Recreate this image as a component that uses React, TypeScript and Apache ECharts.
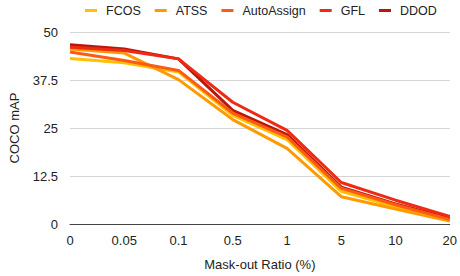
import React, { useEffect, useRef } from "react";
import * as echarts from "echarts";

const categories = ["0", "0.05", "0.1", "0.5", "1", "5", "10", "20"];
const fcos = [43.1, 42.0, 39.6, 28.3, 22.0, 8.5, 4.5, 1.0];
const atss = [45.6, 44.5, 37.6, 27.2, 19.7, 7.1, 3.9, 0.8];
const autoAssign = [44.8, 42.6, 40.0, 28.9, 22.7, 9.3, 5.0, 1.2];
const gfl = [46.0, 45.2, 43.0, 31.7, 24.4, 10.8, 6.2, 2.0];
const ddod = [46.7, 45.6, 43.0, 29.6, 23.3, 9.6, 5.2, 1.5];
const yTicks = [0, 12.5, 25, 37.5, 50];

const seriesDefs = [
  { name: "FCOS", data: fcos, color: "#FFC000" },
  { name: "ATSS", data: atss, color: "#FF9A00" },
  { name: "AutoAssign", data: autoAssign, color: "#FF5A14" },
  { name: "GFL", data: gfl, color: "#EE2A14" },
  { name: "DDOD", data: ddod, color: "#B8180C" },
];

export default function App() {
  const ref = useRef<HTMLDivElement>(null);
  useEffect(() => {
    if (!ref.current) return;
    const chart = echarts.init(ref.current, null, { renderer: "svg" });
    const font = "Liberation Sans, Arial, Helvetica, sans-serif";
    chart.setOption({
      animation: false,
      textStyle: { fontFamily: font },
      legend: {
        top: 4,
        left: 85,
        width: 375,
        padding: 0,
        itemWidth: 12,
        itemHeight: 3,
        itemGap: 14,
        icon: "rect",
        textStyle: { fontSize: 12.5, color: "#222", fontFamily: font, padding: [0, 0, 0, 4] },
        data: seriesDefs.map((s) => s.name),
      },
      grid: { left: 68, right: 5, top: 32, bottom: 49, containLabel: false },
      xAxis: {
        type: "category",
        data: categories,
        boundaryGap: false,
        name: "Mask-out Ratio (%)",
        nameLocation: "middle",
        nameGap: 34,
        nameTextStyle: { fontSize: 13, color: "#222", fontFamily: font },
        axisLine: { lineStyle: { color: "#444", width: 1 } },
        axisTick: { show: false },
        axisLabel: { fontSize: 13, color: "#222", margin: 10, fontFamily: font },
        splitLine: { show: false },
      },
      yAxis: {
        type: "value",
        min: 0,
        max: 50,
        interval: 12.5,
        name: "COCO mAP",
        nameLocation: "middle",
        nameGap: 49,
        nameTextStyle: { fontSize: 13, color: "#222", fontFamily: font },
        axisLine: { show: false },
        axisTick: { show: false },
        axisLabel: {
          fontSize: 13,
          color: "#222",
          margin: 12,
          fontFamily: font,
          formatter: (v: number) => (yTicks.includes(v) ? String(v) : ""),
        },
        splitLine: { show: true, lineStyle: { color: "#d4d4d4", width: 1 } },
      },
      series: seriesDefs.map((s, i) => ({
        name: s.name,
        type: "line",
        data: s.data,
        symbol: "none",
        z: s.name === "DDOD" ? 1 : 2 + i,
        lineStyle: { color: s.color, width: 3 },
        itemStyle: { color: s.color },
      })),
    });
    return () => chart.dispose();
  }, []);
  return <div ref={ref} style={{ width: 460, height: 276, position: "absolute", left: 0, top: 0 }} />;
}
